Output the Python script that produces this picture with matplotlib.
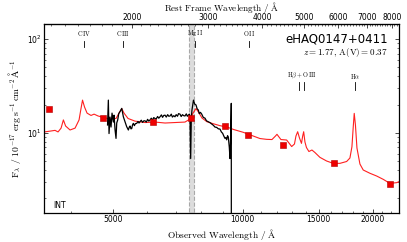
import numpy as np
import matplotlib
matplotlib.use("Agg")
import matplotlib.pyplot as plt
from matplotlib.ticker import FixedLocator, NullFormatter, FuncFormatter

plt.rcParams['mathtext.fontset'] = 'cm'
plt.rcParams['font.family'] = ['DejaVu Sans']

z = 1.77

# Model (quasar template) in observed wavelength (A) and flux
model_wave = [3470, 3578, 3675, 3734, 3795, 3842, 3888, 3981, 4089, 4177, 4222, 4255,
              4301, 4359, 4452, 4525, 4622, 4772, 4927, 5087, 5169, 5245, 5309, 5424,
              5630, 5937, 6263, 6606, 6966, 7348, 7547, 7668, 7793, 7898, 8046, 8262,
              8531, 8855, 9192, 9541, 10030, 10575, 10960, 11358, 11684, 11904, 12000,
              12130, 12256, 12636, 12978, 13173, 13278, 13400, 13530, 13675, 13763,
              13836, 13931, 14043, 14228, 14459, 14691, 15088, 15636, 16198, 16788,
              17398, 17705, 17897, 18021, 18117, 18234, 18382, 18677, 19007, 19700,
              20417, 21145, 21914, 22713, 22990]
model_flux = [10.2, 10.4, 10.6, 10.2, 11.2, 13.7, 11.8, 10.7, 11.2, 13.7, 18.3, 22.3,
              18.8, 16.2, 15.3, 15.8, 15.1, 14.5, 14.0, 14.2, 16.2, 18.1, 16.2, 14.2,
              13.3, 12.85, 13.0, 12.7, 12.85, 13.0, 14.0, 16.2, 18.1, 16.6, 14.35, 13.1,
              12.5, 11.9, 11.5, 10.8, 10.1, 9.22, 8.67, 8.50, 8.46, 9.22, 9.62,
              9.0, 8.46, 8.36, 7.12, 7.58, 9.22, 10.25, 8.78, 7.7, 9.22,
              10.25, 7.96, 6.95, 6.30, 6.54, 6.15, 5.46, 4.99, 4.71, 4.71,
              4.93, 5.37, 7.09, 11.5, 16.1, 12.1, 6.87, 4.63, 4.0, 3.69,
              3.45, 3.18, 2.88, 2.93, 3.0]

# Photometry
phot_wave = [3550, 4750, 6190, 7590, 9100, 10265, 12410, 16257, 21914]
phot_flux = [17.8, 14.45, 13.1, 14.25, 11.8, 9.52, 7.39, 4.71, 2.83]

# Observed spectrum
spec_wave = [4862, 4883, 4901, 4927, 4953, 4980, 5015, 5034, 5061, 5087, 5106, 5133,
             5161, 5196, 5245, 5290, 5337, 5385, 5433, 5460, 5482, 5510, 5532, 5555,
             5579, 5610, 5640, 5681, 5720, 5750, 5781, 5820, 5860, 5900, 5937, 5980,
             6020, 6060, 6098, 6140, 6180, 6220, 6263, 6300, 6350, 6390, 6432, 6480,
             6520, 6560, 6606, 6650, 6700, 6740, 6785, 6830, 6870, 6920, 6966, 7010,
             7060, 7100, 7155, 7200, 7250, 7300, 7348, 7400, 7440, 7478, 7520, 7547,
             7574, 7600, 7627, 7688, 7740, 7793, 7840, 7889, 7930, 7980, 8034, 8100,
             8176, 8240, 8320, 8400, 8472, 8550, 8620, 8701, 8780, 8855, 8920, 8983,
             9040, 9096, 9140, 9177, 9220, 9257, 9306, 9341, 9376, 9406, 9408]
spec_flux = [12.1, 22.3, 9.8, 14.7, 11.5, 16.2, 13.0, 15.4, 10.7, 8.7, 12.7, 13.7,
             16.0, 16.8, 18.2, 14.8, 13.1, 11.6, 10.7, 11.5, 11.8, 11.0, 11.1, 12.1,
             12.6, 11.9, 12.5, 12.6, 13.2, 12.7, 13.1, 13.6, 12.9, 13.4, 13.4, 13.0,
             13.9, 13.3, 13.7, 14.3, 13.6, 14.5, 14.2, 14.0, 14.9, 14.3, 14.8, 15.5,
             14.6, 15.3, 15.4, 14.7, 15.6, 15.0, 15.1, 15.8, 14.7, 15.2, 14.8, 15.6,
             15.0, 16.0, 15.8, 14.9, 15.6, 15.2, 15.1, 15.9, 15.0, 15.4, 15.8, 14.8,
             5.3, 14.5, 17.5, 22.3, 20.2, 19.8, 18.0, 17.5, 16.0, 16.5, 15.8, 14.6,
             14.3, 13.4, 13.1, 12.8, 12.4, 12.0, 11.5, 11.4, 11.0, 10.95, 10.2, 9.85,
             9.2, 8.7, 8.9, 8.4, 9.3, 9.0, 7.0, 5.3, 9.5, 20.6, 0.5]

# Emission lines (rest frame, A)
line_names = [r'$\mathrm{C\,IV}$', r'$\mathrm{C\,III}$', r'$\mathrm{Mg\,II}$', r'$\mathrm{O\,II}$']
line_rest = [1549, 1909, 2798, 3727]
line2_name = r'$\mathrm{H\beta + O\,III}$'
line2_rest = [4861, 5007]
line3_name = r'$\mathrm{H\alpha}$'
line3_rest = [6563]

band = [7500, 7700]

bottom_ticks = [5000, 10000, 15000, 20000]
top_ticks = [2000, 3000, 4000, 5000, 6000, 7000, 8000]

fig = plt.figure(figsize=(4.07, 2.42), dpi=100)
ax = fig.add_axes([0.1088, 0.1211, 0.8715, 0.7798])

ax.axvspan(band[0], band[1], facecolor='#dcdcdc', edgecolor='#a8a8a8',
           linestyle='--', linewidth=0.8, zorder=0)

ax.plot(model_wave, model_flux, color='#ff2020', lw=0.8, zorder=2)
ax.plot(spec_wave, spec_flux, color='black', lw=0.9, zorder=3)
ax.plot(phot_wave, phot_flux, 's', color='#ee0000', mec='#b00000', mew=0.4,
        ms=4.2, zorder=4, clip_on=False)

ax.set_xscale('log')
ax.set_yscale('log')
ax.set_xlim(3470, 23000)
ax.set_ylim(1.4, 145)

# line markers
for name, rw in zip(line_names, line_rest):
    w = rw * (1 + z)
    ax.text(w, 116, name, ha='center', va='center', fontsize=4.5)
    ax.plot([w, w], [83, 96], color='black', lw=0.6)
w2 = [r * (1 + z) for r in line2_rest]
ax.text(np.sqrt(w2[0] * w2[1]), 40.3, line2_name, ha='center', va='center', fontsize=4.5)
for w in w2:
    ax.plot([w, w], [28.6, 34.7], color='black', lw=0.6)
w3 = line3_rest[0] * (1 + z)
ax.text(w3, 40.3, line3_name, ha='center', va='center', fontsize=4.5)
ax.plot([w3, w3], [28.6, 34.7], color='black', lw=0.6)

ax.text(0.968, 0.922, 'eHAQ0147+0411', transform=ax.transAxes, ha='right',
        va='center', fontsize=8.5)
ax.text(0.968, 0.848, r'$z = 1.77,\,\mathrm{A(V)} = 0.37$', transform=ax.transAxes,
        ha='right', va='center', fontsize=6.5)
ax.text(0.025, 0.04, 'INT', transform=ax.transAxes, ha='left', va='center',
        fontsize=5.5)

ax.xaxis.set_major_locator(FixedLocator(bottom_ticks))
ax.xaxis.set_minor_locator(FixedLocator(list(range(4000, 23000, 1000))))
ax.xaxis.set_major_formatter(FuncFormatter(lambda v, p: '%d' % v))
ax.xaxis.set_minor_formatter(NullFormatter())

ax.tick_params(axis='both', which='both', direction='in', labelsize=5.5)
ax.tick_params(axis='x', which='both', top=False)
ax.tick_params(axis='y', which='both', right=True)
ax.tick_params(which='major', length=3, width=0.5)
ax.tick_params(which='minor', length=1.6, width=0.4)
ax.tick_params(axis='both', pad=2)

for s in ax.spines.values():
    s.set_linewidth(0.9)

sec = ax.secondary_xaxis('top', functions=(lambda x: x / (1 + z), lambda x: x * (1 + z)))
sec.xaxis.set_major_locator(FixedLocator(top_ticks))
sec.xaxis.set_minor_locator(FixedLocator(list(range(1300, 8400, 100))))
sec.xaxis.set_major_formatter(FuncFormatter(lambda v, p: '%d' % v))
sec.xaxis.set_minor_formatter(NullFormatter())
sec.tick_params(which='both', direction='in', labelsize=5.5, pad=1.2)
sec.tick_params(which='major', length=3, width=0.5)
sec.tick_params(which='minor', length=1.6, width=0.4)
sec.set_xlabel(r'$\mathrm{Rest\ Frame\ Wavelength\ /\ \AA}$', fontsize=6.6, labelpad=1.8)

ax.set_xlabel(r'$\mathrm{Observed\ Wavelength\ /\ \AA}$', fontsize=6.8, labelpad=1.5)
ax.set_ylabel(r'$\mathrm{F_\lambda\ /\ 10^{-17}\ erg\,s^{-1}\,cm^{-2}\,\AA^{-1}}$',
              fontsize=7, labelpad=3)

fig.savefig('out.png', dpi=100)
